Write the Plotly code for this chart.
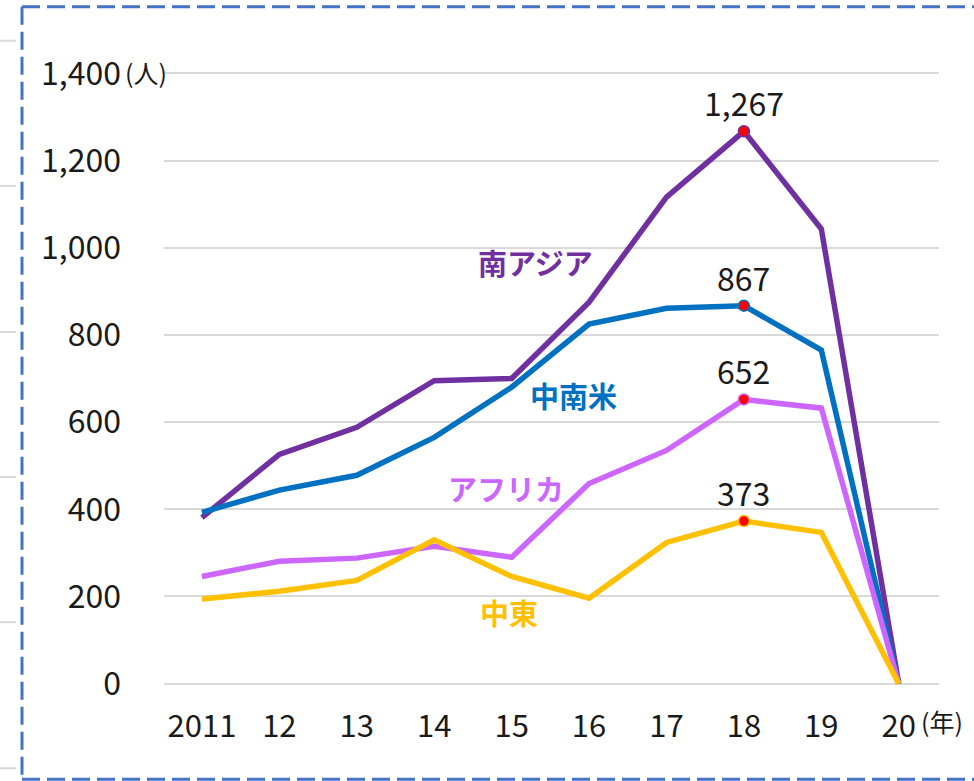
import plotly.graph_objects as go

years = ["2011", "12", "13", "14", "15", "16", "17", "18", "19", "20"]
south_asia = [381, 526, 588, 695, 700, 875, 1116, 1267, 1043, 0]
latin_america = [393, 444, 478, 565, 680, 825, 861, 867, 765, 0]
africa = [246, 281, 288, 315, 290, 459, 535, 652, 632, 0]
middle_east = [194, 212, 237, 330, 246, 196, 324, 373, 347, 0]
y_ticks = [0, 200, 400, 600, 800, 1000, 1200, 1400]
y_ticktext = ["0", "200", "400", "600", "800", "1,000", "1,200", "1,400"]

series = [
    ("南アジア", south_asia, "#7030A0", 4.31, 967),
    ("中南米", latin_america, "#0070C0", 4.80, 662),
    ("アフリカ", africa, "#CC66FF", 3.93, 448),
    ("中東", middle_east, "#FFC000", 3.96, 164),
]
peak_idx = 7

FONT = "Noto Sans CJK JP"
W, H = 974, 781
PXU = 610 / 1400
L, R, T, B = 164, 939, 73.5 - 3 * PXU, 683.5 + 3 * PXU
PW, PH = R - L, B - T


def px(xp):
    return (xp - L) / PW


def py(yp):
    return (B - yp) / PH


xs = list(range(len(years)))
fig = go.Figure()
for name, vals, color, lx, ly in series:
    fig.add_trace(go.Scatter(
        x=xs, y=vals, mode="lines", name=name,
        line=dict(color=color, width=5.5),
        cliponaxis=False, showlegend=False, hoverinfo="skip",
    ))
for name, vals, color, lx, ly in series:
    fig.add_trace(go.Scatter(
        x=[xs[peak_idx]], y=[vals[peak_idx]], mode="markers",
        marker=dict(color="#FF0000", size=11, line=dict(color=color, width=1.5)),
        cliponaxis=False, showlegend=False, hoverinfo="skip",
    ))

annotations = []
for name, vals, color, lx, ly in series:
    annotations.append(dict(
        x=xs[peak_idx], y=vals[peak_idx], xref="x", yref="y",
        text=f"{vals[peak_idx]:,}", showarrow=False, yshift=29,
        font=dict(family=FONT, size=32, color="#1a1a1a"),
    ))
    annotations.append(dict(
        x=lx, y=ly, xref="x", yref="y", text=f"<b>{name}</b>",
        showarrow=False, font=dict(family=FONT, size=29, color=color),
    ))
annotations.append(dict(
    x=px(123), y=py(72), xref="paper", yref="paper", text="(人)",
    showarrow=False, xanchor="left", yanchor="middle",
    font=dict(family=FONT, size=25, color="#1a1a1a"),
))
annotations.append(dict(
    x=px(919), y=py(721), xref="paper", yref="paper", text="(年)",
    showarrow=False, xanchor="left", yanchor="middle",
    font=dict(family=FONT, size=25, color="#1a1a1a"),
))

shapes = []
border = dict(color="#4472C4", width=3, dash="18px,7px")
shapes.append(dict(type="line", xref="paper", yref="paper",
                   x0=px(22), x1=px(22), y0=py(7), y1=py(780), line=border))
shapes.append(dict(type="line", xref="paper", yref="paper",
                   x0=px(22), x1=px(980), y0=py(7), y1=py(7), line=border))
shapes.append(dict(type="line", xref="paper", yref="paper",
                   x0=px(22), x1=px(980), y0=py(779), y1=py(779), line=border))
for gy in [41, 186, 332, 477, 622, 768]:
    shapes.append(dict(type="line", xref="paper", yref="paper",
                       x0=px(0), x1=px(16), y0=py(gy), y1=py(gy),
                       line=dict(color="#D9D9D9", width=2)))

fig.update_layout(
    width=W, height=H,
    margin=dict(l=L, r=W - R, t=T, b=H - B, pad=0),
    paper_bgcolor="white", plot_bgcolor="white",
    font=dict(family=FONT, size=32, color="#1a1a1a"),
    xaxis=dict(
        tickmode="array", tickvals=xs, ticktext=years,
        range=[-0.49, 9.52], showgrid=False, zeroline=False,
        showline=False, ticks="", ticklabelstandoff=20,
        tickfont=dict(family=FONT, size=31, color="#1a1a1a"),
    ),
    yaxis=dict(
        range=[-3, 1403], tickvals=y_ticks, ticktext=y_ticktext,
        showgrid=True, gridcolor="#D9D9D9", gridwidth=2,
        zeroline=False, showline=False, ticks="", ticklabelstandoff=42,
        tickfont=dict(family=FONT, size=32, color="#1a1a1a"),
    ),
    annotations=annotations, shapes=shapes,
)
fig.write_html(
    "out.html",
    config={"displayModeBar": False},
    post_script="document.body.style.margin='0';document.body.style.padding='0';",
)
